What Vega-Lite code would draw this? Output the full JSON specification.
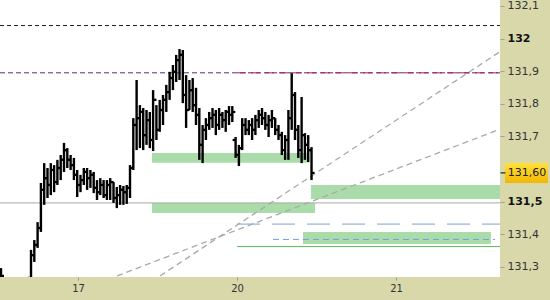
{
  "$schema": "https://vega.github.io/schema/vega-lite/v6.json",
  "width": 500,
  "height": 277,
  "autosize": {"type": "none"},
  "padding": {"left": 0, "top": 0, "right": 50, "bottom": 23},
  "background": "#d8d8aa",
  "config": {
    "view": {"fill": "white", "stroke": null},
    "axis": {"labelFont": "DejaVu Sans", "grid": false, "domain": false, "title": null}
  },
  "datasets": {
    "bars": [
      {"t": -0.4843, "o": 131.290, "h": 131.296, "l": 131.253, "c": 131.272},
      {"t": -0.2956, "o": 131.266, "h": 131.352, "l": 131.253, "c": 131.336},
      {"t": -0.2748, "o": 131.336, "h": 131.382, "l": 131.315, "c": 131.367},
      {"t": -0.2541, "o": 131.367, "h": 131.437, "l": 131.358, "c": 131.419},
      {"t": -0.2333, "o": 131.419, "h": 131.557, "l": 131.407, "c": 131.536},
      {"t": -0.2126, "o": 131.536, "h": 131.618, "l": 131.490, "c": 131.572},
      {"t": -0.1918, "o": 131.572, "h": 131.603, "l": 131.511, "c": 131.551},
      {"t": -0.1711, "o": 131.551, "h": 131.618, "l": 131.520, "c": 131.597},
      {"t": -0.1503, "o": 131.597, "h": 131.612, "l": 131.529, "c": 131.560},
      {"t": -0.1296, "o": 131.560, "h": 131.628, "l": 131.551, "c": 131.603},
      {"t": -0.1088, "o": 131.603, "h": 131.643, "l": 131.566, "c": 131.628},
      {"t": -0.0881, "o": 131.628, "h": 131.680, "l": 131.591, "c": 131.658},
      {"t": -0.0673, "o": 131.658, "h": 131.664, "l": 131.603, "c": 131.628},
      {"t": -0.0465, "o": 131.628, "h": 131.643, "l": 131.597, "c": 131.612},
      {"t": -0.0258, "o": 131.612, "h": 131.634, "l": 131.566, "c": 131.582},
      {"t": -0.0050, "o": 131.582, "h": 131.597, "l": 131.514, "c": 131.551},
      {"t": 0.0157, "o": 131.551, "h": 131.582, "l": 131.529, "c": 131.566},
      {"t": 0.0365, "o": 131.566, "h": 131.603, "l": 131.551, "c": 131.591},
      {"t": 0.0572, "o": 131.591, "h": 131.603, "l": 131.536, "c": 131.572},
      {"t": 0.0780, "o": 131.572, "h": 131.597, "l": 131.542, "c": 131.582},
      {"t": 0.0987, "o": 131.582, "h": 131.591, "l": 131.526, "c": 131.542},
      {"t": 0.1195, "o": 131.542, "h": 131.566, "l": 131.505, "c": 131.529},
      {"t": 0.1402, "o": 131.529, "h": 131.572, "l": 131.520, "c": 131.551},
      {"t": 0.1610, "o": 131.551, "h": 131.566, "l": 131.511, "c": 131.520},
      {"t": 0.1818, "o": 131.520, "h": 131.566, "l": 131.505, "c": 131.551},
      {"t": 0.2025, "o": 131.551, "h": 131.572, "l": 131.505, "c": 131.560},
      {"t": 0.2233, "o": 131.560, "h": 131.560, "l": 131.496, "c": 131.511},
      {"t": 0.2440, "o": 131.511, "h": 131.545, "l": 131.480, "c": 131.520},
      {"t": 0.2648, "o": 131.520, "h": 131.551, "l": 131.490, "c": 131.536},
      {"t": 0.2855, "o": 131.536, "h": 131.548, "l": 131.490, "c": 131.529},
      {"t": 0.3063, "o": 131.529, "h": 131.551, "l": 131.493, "c": 131.542},
      {"t": 0.3270, "o": 131.542, "h": 131.612, "l": 131.511, "c": 131.603},
      {"t": 0.3478, "o": 131.603, "h": 131.756, "l": 131.597, "c": 131.735},
      {"t": 0.3686, "o": 131.735, "h": 131.873, "l": 131.658, "c": 131.756},
      {"t": 0.3893, "o": 131.756, "h": 131.796, "l": 131.664, "c": 131.775},
      {"t": 0.4101, "o": 131.775, "h": 131.787, "l": 131.658, "c": 131.704},
      {"t": 0.4308, "o": 131.704, "h": 131.781, "l": 131.674, "c": 131.750},
      {"t": 0.4516, "o": 131.750, "h": 131.775, "l": 131.664, "c": 131.689},
      {"t": 0.4723, "o": 131.689, "h": 131.842, "l": 131.655, "c": 131.812},
      {"t": 0.4931, "o": 131.812, "h": 131.796, "l": 131.689, "c": 131.720},
      {"t": 0.5138, "o": 131.720, "h": 131.812, "l": 131.714, "c": 131.781},
      {"t": 0.5346, "o": 131.781, "h": 131.827, "l": 131.735, "c": 131.812},
      {"t": 0.5553, "o": 131.812, "h": 131.858, "l": 131.775, "c": 131.836},
      {"t": 0.5761, "o": 131.836, "h": 131.898, "l": 131.812, "c": 131.879},
      {"t": 0.5969, "o": 131.879, "h": 131.919, "l": 131.842, "c": 131.898},
      {"t": 0.6176, "o": 131.898, "h": 131.950, "l": 131.867, "c": 131.934},
      {"t": 0.6384, "o": 131.934, "h": 131.968, "l": 131.873, "c": 131.950},
      {"t": 0.6591, "o": 131.950, "h": 131.965, "l": 131.802, "c": 131.827},
      {"t": 0.6799, "o": 131.827, "h": 131.888, "l": 131.726, "c": 131.781},
      {"t": 0.7006, "o": 131.781, "h": 131.873, "l": 131.781, "c": 131.842},
      {"t": 0.7214, "o": 131.842, "h": 131.879, "l": 131.775, "c": 131.796},
      {"t": 0.7421, "o": 131.796, "h": 131.849, "l": 131.735, "c": 131.766},
      {"t": 0.7629, "o": 131.766, "h": 131.787, "l": 131.628, "c": 131.674},
      {"t": 0.7836, "o": 131.674, "h": 131.735, "l": 131.618, "c": 131.720},
      {"t": 0.8044, "o": 131.720, "h": 131.756, "l": 131.689, "c": 131.735},
      {"t": 0.8252, "o": 131.735, "h": 131.775, "l": 131.720, "c": 131.756},
      {"t": 0.8459, "o": 131.756, "h": 131.787, "l": 131.726, "c": 131.766},
      {"t": 0.8667, "o": 131.766, "h": 131.781, "l": 131.704, "c": 131.735},
      {"t": 0.8874, "o": 131.735, "h": 131.787, "l": 131.720, "c": 131.766},
      {"t": 0.9082, "o": 131.766, "h": 131.775, "l": 131.726, "c": 131.750},
      {"t": 0.9289, "o": 131.750, "h": 131.781, "l": 131.714, "c": 131.775},
      {"t": 0.9497, "o": 131.775, "h": 131.793, "l": 131.735, "c": 131.766},
      {"t": 0.9704, "o": 131.766, "h": 131.793, "l": 131.744, "c": 131.775},
      {"t": 0.9912, "o": 131.689, "h": 131.698, "l": 131.634, "c": 131.643},
      {"t": 1.0119, "o": 131.643, "h": 131.674, "l": 131.609, "c": 131.664},
      {"t": 1.0327, "o": 131.664, "h": 131.756, "l": 131.658, "c": 131.735},
      {"t": 1.0535, "o": 131.735, "h": 131.756, "l": 131.704, "c": 131.720},
      {"t": 1.0742, "o": 131.720, "h": 131.750, "l": 131.704, "c": 131.735},
      {"t": 1.0950, "o": 131.735, "h": 131.756, "l": 131.689, "c": 131.720},
      {"t": 1.1157, "o": 131.720, "h": 131.766, "l": 131.704, "c": 131.750},
      {"t": 1.1365, "o": 131.750, "h": 131.781, "l": 131.726, "c": 131.766},
      {"t": 1.1572, "o": 131.766, "h": 131.787, "l": 131.735, "c": 131.756},
      {"t": 1.1780, "o": 131.756, "h": 131.775, "l": 131.720, "c": 131.735},
      {"t": 1.1987, "o": 131.735, "h": 131.766, "l": 131.698, "c": 131.750},
      {"t": 1.2195, "o": 131.750, "h": 131.781, "l": 131.726, "c": 131.756},
      {"t": 1.2403, "o": 131.756, "h": 131.756, "l": 131.704, "c": 131.720},
      {"t": 1.2610, "o": 131.720, "h": 131.735, "l": 131.689, "c": 131.704},
      {"t": 1.2818, "o": 131.704, "h": 131.714, "l": 131.643, "c": 131.658},
      {"t": 1.3025, "o": 131.658, "h": 131.704, "l": 131.628, "c": 131.689},
      {"t": 1.3233, "o": 131.689, "h": 131.781, "l": 131.628, "c": 131.756},
      {"t": 1.3440, "o": 131.756, "h": 131.894, "l": 131.720, "c": 131.827},
      {"t": 1.3648, "o": 131.827, "h": 131.836, "l": 131.689, "c": 131.720},
      {"t": 1.3855, "o": 131.720, "h": 131.735, "l": 131.634, "c": 131.658},
      {"t": 1.4063, "o": 131.658, "h": 131.821, "l": 131.618, "c": 131.704},
      {"t": 1.4270, "o": 131.704, "h": 131.710, "l": 131.628, "c": 131.674},
      {"t": 1.4478, "o": 131.674, "h": 131.704, "l": 131.621, "c": 131.658},
      {"t": 1.4686, "o": 131.658, "h": 131.667, "l": 131.566, "c": 131.588}
    ],
    "zones": [
      {"t1": 0.465, "t2": 1.44, "p1": 131.619, "p2": 131.649},
      {"t1": 0.465, "t2": 1.491, "p1": 131.465, "p2": 131.496},
      {"t1": 1.465, "t2": 2.654, "p1": 131.508, "p2": 131.551},
      {"t1": 1.415, "t2": 2.597, "p1": 131.370, "p2": 131.407}
    ],
    "levels": [
      {"kind": "black", "p": 132.04, "t1": -0.4906, "t2": 2.654},
      {"kind": "purple", "p": 131.895, "t1": -0.4906, "t2": 2.654},
      {"kind": "magenta", "p": 131.895, "t1": 1.0, "t2": 2.654},
      {"kind": "grey", "p": 131.496, "t1": -0.4906, "t2": 2.654},
      {"kind": "bluelong", "p": 131.431, "t1": 1.0, "t2": 2.654},
      {"kind": "blueshort", "p": 131.384, "t1": 1.226, "t2": 2.623},
      {"kind": "green", "p": 131.362, "t1": 1.0, "t2": 2.654}
    ],
    "trends": [
      {"id": "a", "t": 0.5157, "p": 131.272},
      {"id": "a", "t": 2.654, "p": 131.960},
      {"id": "b", "t": 0.2453, "p": 131.272},
      {"id": "b", "t": 2.654, "p": 131.722}
    ],
    "last": [
      {"p": 131.588, "label": "131,60"}
    ]
  },
  "encoding": {
    "x": {"type": "quantitative", "scale": {"domain": [-0.4906, 2.654], "nice": false, "zero": false},
      "axis": {"values": [0, 1, 2], "labelExpr": "datum.value == 0 ? '17' : datum.value == 1 ? '20' : '21'", "tickSize": 3, "tickColor": "#999999", "labelPadding": 3, "labelFontSize": 10, "labelColor": "#333333", "orient": "bottom"}},
    "y": {"type": "quantitative", "scale": {"domain": [131.2687, 132.1184], "nice": false, "zero": false},
      "axis": {"orient": "right", "values": [131.3, 131.4, 131.5, 131.7, 131.8, 131.9, 132, 132.1], "labelExpr": "replace(format(datum.value, '.2~f'), '.', ',')", "tickSize": 4, "tickColor": "#a0a0a0", "labelPadding": 3, "labelFontSize": 11,
        "labelFontWeight": {"condition": {"test": "datum.value == 132 || abs(datum.value - 131.5) < 0.001", "value": "bold"}, "value": "normal"},
        "labelColor": {"condition": {"test": "datum.value == 132 || abs(datum.value - 131.5) < 0.001", "value": "#111111"}, "value": "#333333"}}}
  },
  "layer": [
    {
      "data": {"name": "zones"},
      "mark": {"type": "rect", "fill": "#a9dca9", "clip": true},
      "encoding": {
        "x": {"field": "t1"},
        "x2": {"field": "t2"},
        "y": {"field": "p1"},
        "y2": {"field": "p2"}
      }
    },
    {
      "data": {"name": "levels"},
      "mark": {"type": "rule", "clip": true},
      "encoding": {
        "x": {"field": "t1"},
        "x2": {"field": "t2"},
        "y": {"field": "p"},
        "color": {"field": "kind", "type": "nominal", "legend": null,
          "scale": {"domain": ["black", "purple", "magenta", "grey", "bluelong", "blueshort", "green"], "range": ["#1a1a1a", "#5a2a7a", "#b01860", "#a8a8a8", "#7f9fd0", "#6f9fe0", "#5cb85c"]}},
        "strokeDash": {"field": "kind", "type": "nominal", "legend": null,
          "scale": {"domain": ["black", "purple", "magenta", "grey", "bluelong", "blueshort", "green"], "range": [[4, 3], [5, 3], [9, 5], [1, 0], [23, 12], [6, 4], [1, 0]]}},
        "strokeWidth": {"field": "kind", "type": "nominal", "legend": null,
          "scale": {"domain": ["black", "purple", "magenta", "grey", "bluelong", "blueshort", "green"], "range": [1, 1, 1.5, 1, 1, 1, 1]}}
      }
    },
    {
      "data": {"name": "trends"},
      "mark": {"type": "line", "color": "#aaaaaa", "strokeDash": [6, 4], "strokeWidth": 1.3, "clip": true},
      "encoding": {
        "x": {"field": "t"},
        "y": {"field": "p"},
        "detail": {"field": "id"}
      }
    },
    {
      "data": {"name": "bars"},
      "mark": {"type": "rule", "color": "#000000", "strokeWidth": 2.4, "clip": true},
      "encoding": {
        "x": {"field": "t"},
        "y": {"field": "l"},
        "y2": {"field": "h"}
      }
    },
    {
      "data": {"name": "bars"},
      "mark": {"type": "tick", "orient": "horizontal", "color": "#000000", "size": 3, "thickness": 2.2, "xOffset": -1.5, "opacity": 1, "clip": true},
      "encoding": {
        "x": {"field": "t"},
        "y": {"field": "o"}
      }
    },
    {
      "data": {"name": "bars"},
      "mark": {"type": "tick", "orient": "horizontal", "color": "#000000", "size": 3, "thickness": 2.2, "xOffset": 1.5, "opacity": 1, "clip": true},
      "encoding": {
        "x": {"field": "t"},
        "y": {"field": "c"}
      }
    },
    {
      "data": {"name": "last"},
      "mark": {"type": "point", "shape": "M-2.15,-1H2.15V1H-2.15Z", "size": 400, "filled": true, "opacity": 1, "strokeWidth": 0,
        "fill": {"gradient": "linear", "x1": 0, "y1": 0, "x2": 0, "y2": 1, "stops": [{"offset": 0, "color": "#ffe23a"}, {"offset": 1, "color": "#f2b705"}]}},
      "encoding": {
        "x": {"value": 526.5},
        "y": {"field": "p"}
      }
    },
    {
      "data": {"name": "last"},
      "mark": {"type": "tick", "orient": "horizontal", "color": "#000000", "size": 5, "thickness": 1, "opacity": 1},
      "encoding": {
        "x": {"value": 503},
        "y": {"field": "p"}
      }
    },
    {
      "data": {"name": "last"},
      "mark": {"type": "text", "font": "DejaVu Sans", "fontSize": 11, "color": "#222222", "align": "center", "baseline": "middle"},
      "encoding": {
        "x": {"value": 527},
        "y": {"field": "p"},
        "text": {"field": "label"}
      }
    }
  ]
}
